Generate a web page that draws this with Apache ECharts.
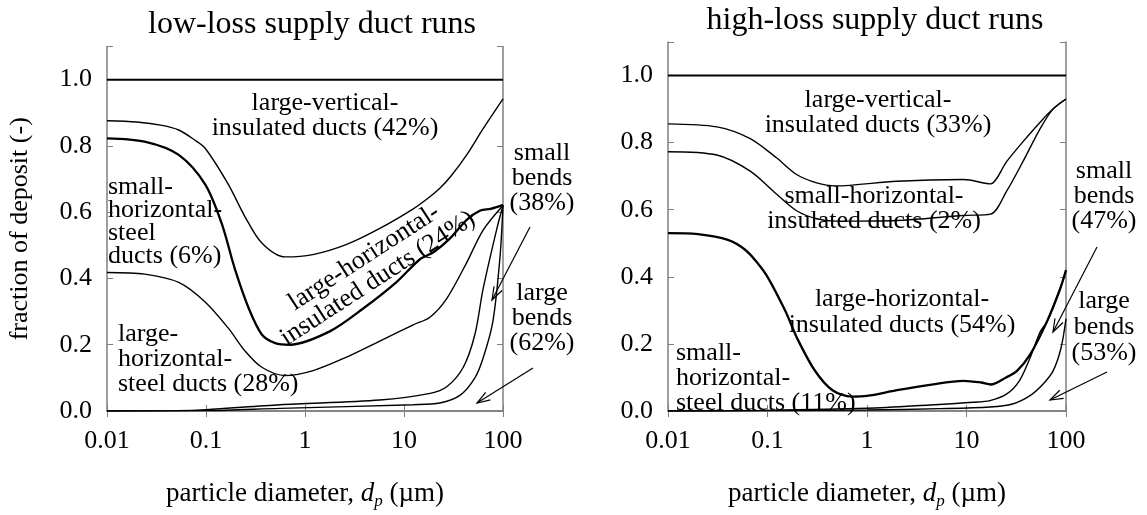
<!DOCTYPE html>
<html>
<head>
<meta charset="utf-8">
<script src="https://cdn.jsdelivr.net/npm/echarts@6/dist/echarts.min.js"></script>
<style>
	html, body {margin: 0; padding: 0; background: #fff;}
	#chart {width: 1147px; height: 515px;}
</style>
</head>
<body>
<div id="chart"></div>
<script>
// tick labels
const xTickLabels = ["0.01", "0.1", "1", "10", "100"];

// low-loss supply duct runs: cumulative boundaries [dp (um), fraction]
const lowTop = [[0.01, 1], [100, 1]];
const lowA = [[0.01, 0.876], [0.02, 0.872], [0.036, 0.862], [0.053, 0.848], [0.075, 0.82], [0.098, 0.793],
	[0.168, 0.684], [0.248, 0.586], [0.366, 0.507], [0.63, 0.465], [1.2, 0.472], [2.6, 0.502], [5.7, 0.551],
	[12.4, 0.61], [18, 0.645], [23, 0.672], [30, 0.71], [43, 0.773], [63, 0.852], [100, 0.942]];
const lowB = [[0.01, 0.823], [0.024, 0.813], [0.053, 0.773], [0.098, 0.684], [0.144, 0.566], [0.196, 0.428],
	[0.27, 0.31], [0.366, 0.231], [0.5, 0.205], [0.71, 0.2], [1.8, 0.241], [3.9, 0.31], [8.4, 0.389],
	[14.5, 0.458], [20, 0.48], [29, 0.52], [43, 0.577], [59, 0.605], [75, 0.61], [100, 0.622]];
const lowC = [[0.01, 0.418], [0.024, 0.413], [0.053, 0.388], [0.098, 0.329], [0.168, 0.25], [0.248, 0.181],
	[0.366, 0.132], [0.63, 0.107], [1.21, 0.122], [2.6, 0.162], [5.7, 0.211], [12.4, 0.26], [18.3, 0.283],
	[27, 0.339], [43, 0.448], [63, 0.546], [100, 0.62]];
const lowD = [[0.01, 0], [0.05, 0.001], [0.1, 0.004], [0.56, 0.019], [5.7, 0.033], [18.3, 0.053], [27, 0.073],
	[39.7, 0.132], [52, 0.231], [63, 0.369], [86, 0.546], [100, 0.62]];
const lowE = [[0.01, 0], [0.1, 0.001], [0.56, 0.008], [12.4, 0.019], [23, 0.024], [37, 0.048], [52, 0.1],
	[63, 0.16], [79, 0.27], [93, 0.46], [100, 0.62]];

// high-loss supply duct runs
const highTop = [[0.01, 1], [100, 1]];
const highA = [[0.01, 0.856], [0.031, 0.847], [0.067, 0.812], [0.124, 0.754], [0.196, 0.705], [0.312, 0.68],
	[0.48, 0.671], [1.99, 0.685], [9.3, 0.69], [16, 0.678], [17.5, 0.677], [25.4, 0.744], [37, 0.803],
	[55, 0.861], [74, 0.9], [100, 0.93]];
const highB = [[0.01, 0.773], [0.031, 0.763], [0.067, 0.715], [0.124, 0.646], [0.196, 0.597], [0.312, 0.573],
	[0.48, 0.566], [1.99, 0.568], [9.3, 0.583], [17.5, 0.587], [25.4, 0.656], [37, 0.744], [55, 0.842],
	[74, 0.9], [100, 0.93]];
const highC = [[0.01, 0.53], [0.02, 0.527], [0.04, 0.51], [0.06, 0.48], [0.08, 0.44], [0.1, 0.4], [0.15, 0.3],
	[0.2, 0.215], [0.3, 0.12], [0.45, 0.062], [0.7, 0.043], [1, 0.045], [2, 0.062], [4.3, 0.078], [9.3, 0.09],
	[14, 0.085], [17.5, 0.079], [25, 0.1], [32, 0.119], [43.5, 0.168], [64, 0.265], [87, 0.363], [100, 0.42]];
const highD = [[0.01, 0], [0.1, 0.002], [1, 0.008], [4.3, 0.018], [11.7, 0.026], [17.2, 0.031], [25.4, 0.051],
	[34, 0.09], [43.5, 0.158], [55, 0.236], [64, 0.265], [87, 0.363], [100, 0.42]];
const highE = [[0.01, 0], [0.1, 0.001], [1, 0.003], [5.4, 0.007], [17.2, 0.012], [29, 0.021], [43.5, 0.046],
	[58.6, 0.08], [74, 0.119], [89, 0.187], [100, 0.275]];

const FONT = "Liberation Serif";
const FRAME = "#7f7f7f";

const chart = echarts.init(document.getElementById("chart"));

function xAxes(gridIndex, withName) {
	const common = {
		type: "log",
		logBase: 10,
		min: 0.01,
		max: 100,
		gridIndex: gridIndex,
		axisLine: {show: true, lineStyle: {color: FRAME, width: 1.5}},
		axisTick: {show: true, inside: true, length: 6, lineStyle: {color: FRAME}},
		splitLine: {show: false},
		minorTick: {show: false},
	};
	return [
		{
			...common,
			position: "bottom",
			axisLabel: {
				show: true,
				margin: 17,
				color: "#000",
				fontFamily: FONT,
				fontSize: 26,
				formatter: (v) => xTickLabels[Math.round(Math.log10(v)) + 2],
			},
			name: withName ? "particle diameter, {i|d}{s|p} (\u00b5m)" : "",
			nameLocation: "middle",
			nameGap: 66,
			nameTextStyle: {
				color: "#000",
				fontFamily: FONT,
				fontSize: 27,
				rich: {
					i: {fontFamily: FONT, fontSize: 27, fontStyle: "italic", color: "#000"},
					s: {fontFamily: FONT, fontSize: 17, fontStyle: "italic", color: "#000", padding: [16, 0, 0, 0]},
				},
			},
		},
		{...common, position: "top", axisLabel: {show: false}},
	];
}

function yAxes(gridIndex, name) {
	const common = {
		type: "value",
		min: 0,
		max: 1.1,
		interval: 0.2,
		gridIndex: gridIndex,
		axisLine: {show: true, lineStyle: {color: FRAME, width: 1.5}},
		axisTick: {show: true, inside: true, length: 6, lineStyle: {color: FRAME}},
		splitLine: {show: false},
	};
	return [
		{
			...common,
			position: "left",
			axisLabel: {
				show: true,
				margin: 15,
				color: "#000",
				fontFamily: FONT,
				fontSize: 26,
				formatter: (v) => (v > 1.05 ? "" : v.toFixed(1)),
			},
			name: name,
			nameLocation: "middle",
			nameRotate: 90,
			nameGap: 74,
			nameTextStyle: {color: "#000", fontFamily: FONT, fontSize: 26},
		},
		{...common, position: "right", axisLabel: {show: false}},
	];
}

function curve(data, xi, yi, width) {
	return {
		type: "line",
		data: data,
		xAxisIndex: xi,
		yAxisIndex: yi,
		showSymbol: false,
		symbol: "none",
		smooth: 0.3,
		lineStyle: {color: "#000", width: width},
		silent: true,
		animation: false,
	};
}

// text helpers for the in-plot labels
function lines(texts, x, y0, step, align) {
	return texts.map((t, i) => ({
		type: "text",
		x: x,
		y: y0 + i * step,
		style: {
			text: t,
			font: `26px "${FONT}"`,
			fill: "#000",
			align: align || "center",
			verticalAlign: "middle",
		},
		z: 100,
	}));
}

function arrow(x1, y1, x2, y2) {
	const dx = x2 - x1;
	const dy = y2 - y1;
	const len = Math.sqrt(dx * dx + dy * dy);
	const ux = dx / len;
	const uy = dy / len;
	const L = 13;
	const W = 4.5;
	return [
		{type: "line", shape: {x1: x1, y1: y1, x2: x2, y2: y2}, style: {stroke: "#000", lineWidth: 1.2}, z: 100},
		{
			type: "polyline",
			shape: {
				points: [
					[x2 - L * ux - W * uy, y2 - L * uy + W * ux],
					[x2, y2],
					[x2 - L * ux + W * uy, y2 - L * uy - W * ux],
				],
			},
			style: {stroke: "#000", lineWidth: 1.2, fill: null},
			z: 100,
		},
	];
}

const graphics = [
	// low-loss panel
	...lines(["large-vertical-", "insulated ducts (42%)"], 325, 103, 25),
	...lines(["small-", "horizontal-", "steel", "ducts (6%)"], 108, 187, 23, "left"),
	...lines(["large-", "horizontal-", "steel ducts (28%)"], 118, 334, 25, "left"),
	{
		type: "group",
		x: 371,
		y: 268,
		rotation: (33 * Math.PI) / 180,
		children: lines(["large-horizontal-", "insulated ducts (24%)"], 0, -12.5, 25),
	},
	...lines(["small", "bends", "(38%)"], 542, 153, 25),
	...lines(["large", "bends", "(62%)"], 542, 293, 25),
	...arrow(530, 227, 492, 300),
	...arrow(533, 368, 477, 403),
	// high-loss panel
	...lines(["large-vertical-", "insulated ducts (33%)"], 878, 100, 25),
	...lines(["small-horizontal-", "insulated ducts (2%)"], 874, 196, 25),
	...lines(["large-horizontal-", "insulated ducts (54%)"], 902, 299, 26),
	...lines(["small-", "horizontal-", "steel ducts (11%)"], 676, 353, 25, "left"),
	...lines(["small", "bends", "(47%)"], 1104, 171, 25),
	...lines(["large", "bends", "(53%)"], 1104, 301, 26),
	...arrow(1097, 247, 1053, 332),
	...arrow(1107, 372, 1050, 400),
];

const option = {
	backgroundColor: "#fff",
	animation: false,
	title: [
		{
			text: "low-loss supply duct runs",
			left: 307,
			top: 4,
			textAlign: "center",
			textStyle: {fontFamily: FONT, fontSize: 32, fontWeight: "normal", color: "#000"},
		},
		{
			text: "high-loss supply duct runs",
			left: 870,
			top: 0,
			textAlign: "center",
			textStyle: {fontFamily: FONT, fontSize: 32, fontWeight: "normal", color: "#000"},
		},
	],
	grid: [
		{left: 107, top: 46.5, width: 396, height: 371.5},
		{left: 668, top: 42, width: 398, height: 375},
	],
	xAxis: [...xAxes(0, true), ...xAxes(1, true)],
	yAxis: [...yAxes(0, "fraction of deposit (-)"), ...yAxes(1, "")],
	series: [
		curve(lowTop, 0, 0, 2),
		curve(lowA, 0, 0, 1.4),
		curve(lowB, 0, 0, 2.3),
		curve(lowC, 0, 0, 1.4),
		curve(lowD, 0, 0, 1.4),
		curve(lowE, 0, 0, 1.4),
		curve(highTop, 2, 2, 2),
		curve(highA, 2, 2, 1.4),
		curve(highB, 2, 2, 1.4),
		curve(highC, 2, 2, 2.3),
		curve(highD, 2, 2, 1.4),
		curve(highE, 2, 2, 1.4),
	],
	graphic: graphics,
};

chart.setOption(option);
</script>
</body>
</html>
